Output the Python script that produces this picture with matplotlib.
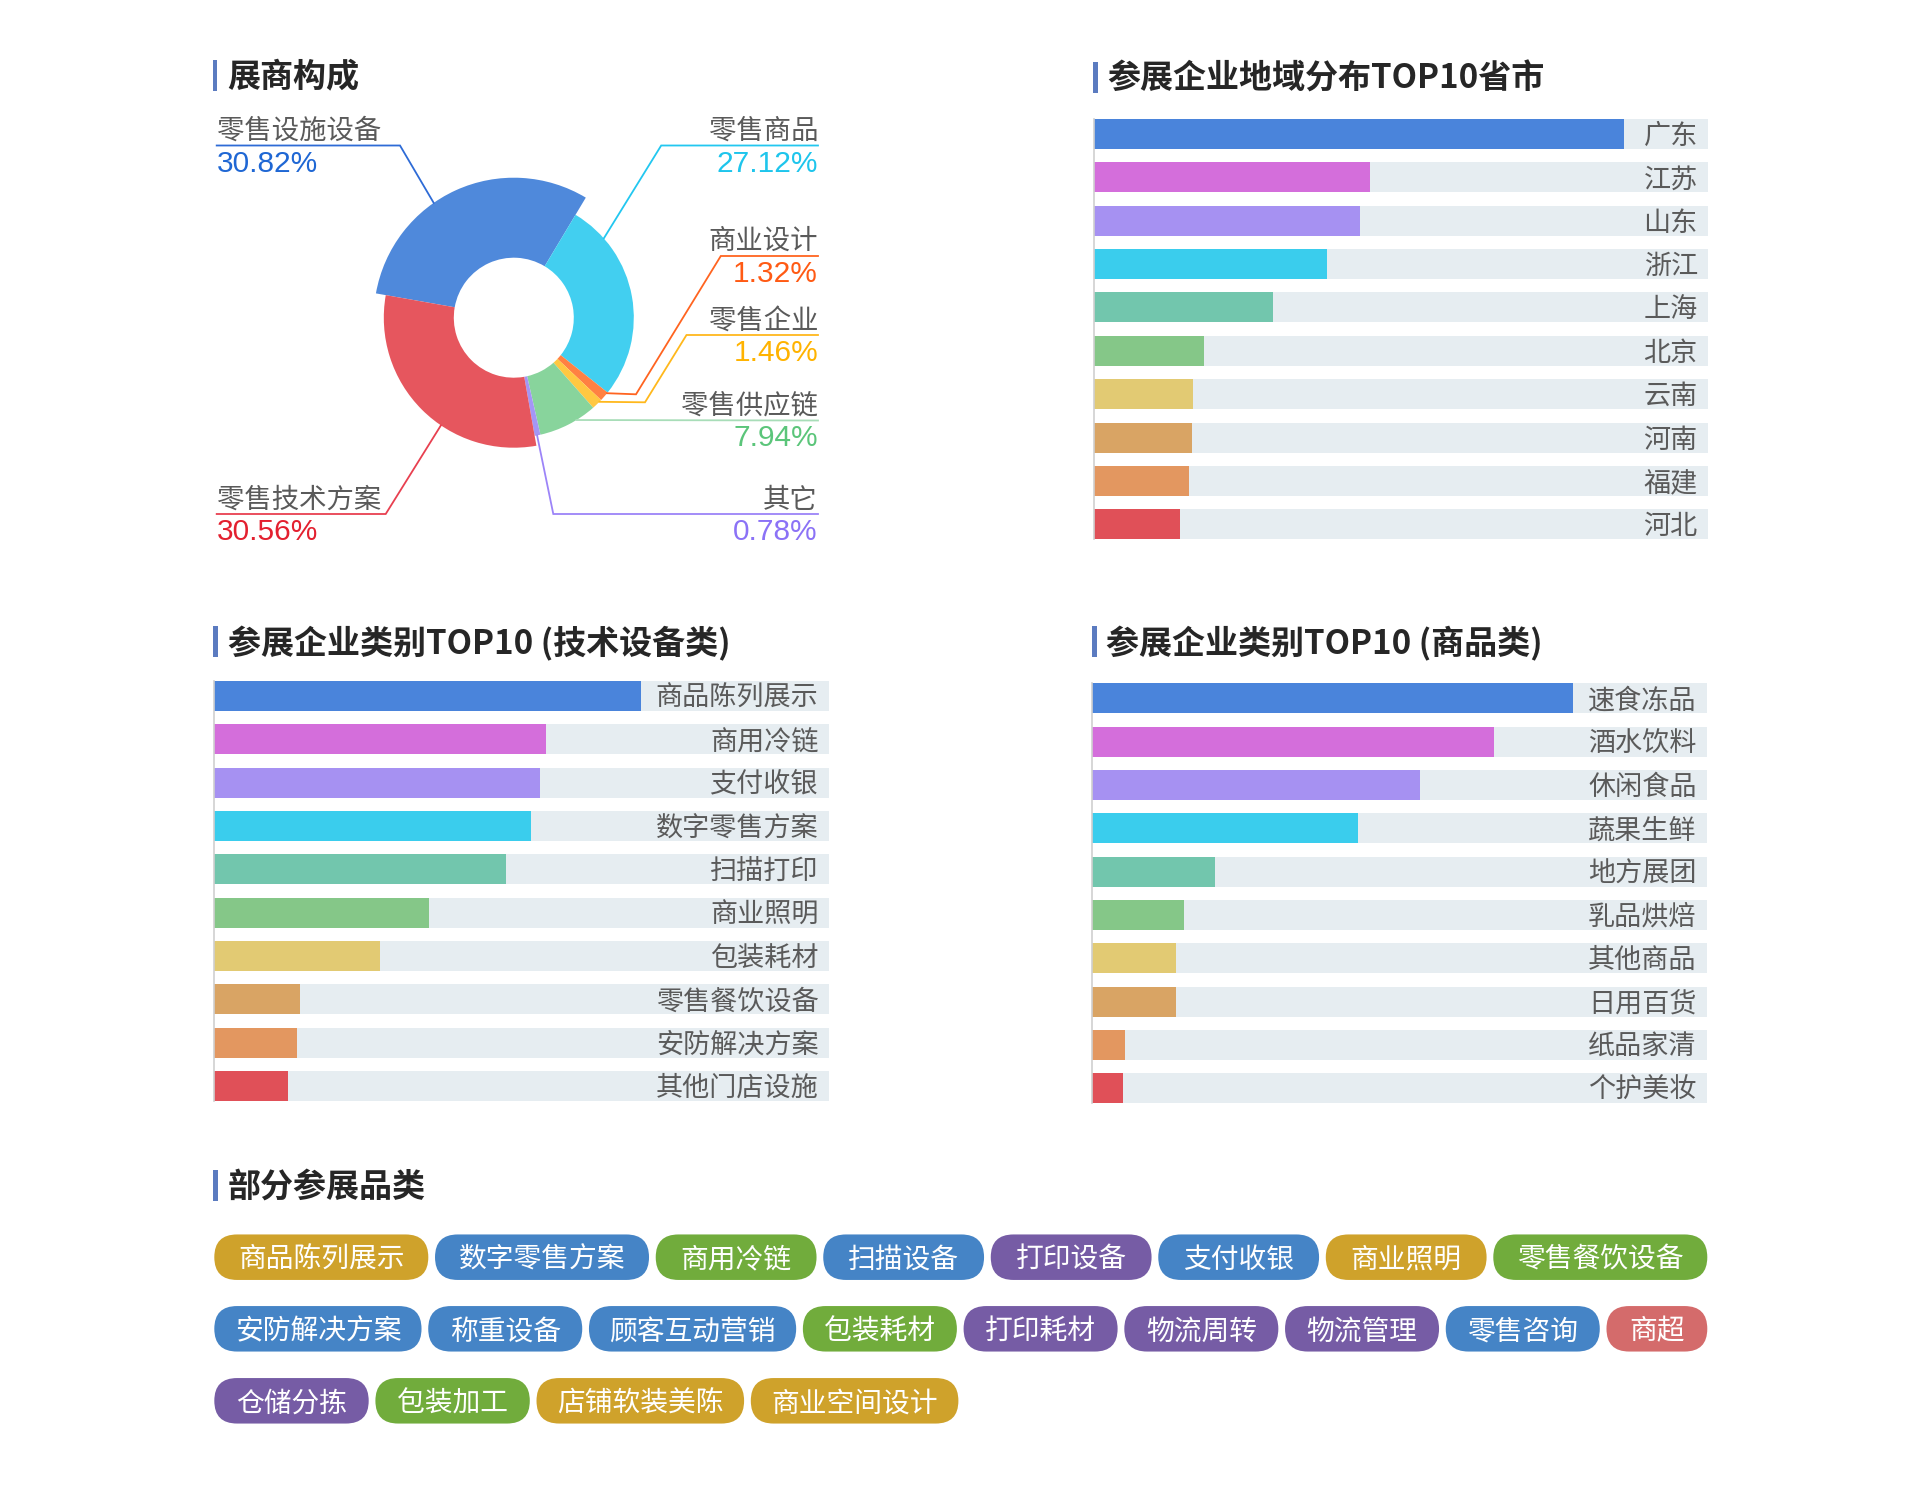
import matplotlib
matplotlib.use('Agg')
import matplotlib.pyplot as plt
from matplotlib.patches import Rectangle, FancyBboxPatch
import numpy as np

plt.rcParams['font.family'] = ['Noto Sans CJK SC', 'DejaVu Sans']

W, H = 1920, 1490
BG = '#e6edf1'
TITLE_BAR = '#5b7bc0'
LABEL_GREY = '#5a5a5a'
DY = 2.5  # CJK glyphs sit a bit high with va='center'

# ---- 展商构成 (玫瑰环形图), 顺时针顺序
pie_names = ['零售设施设备', '零售商品', '商业设计', '零售企业', '零售供应链', '其它', '零售技术方案']
pie_shares = [30.82, 27.12, 1.32, 1.46, 7.94, 0.78, 30.56]
pie_colors = ['#4f89db', '#42cff0', '#ff8142', '#ffc842', '#88d49c', '#a496f5', '#e6565e']
pct_colors = ['#1f67d4', '#1ec5ec', '#ff5a14', '#ffb300', '#5bc57a', '#8b72f6', '#e3202f']
line_colors = ['#2e6bd6', '#22c7f0', '#ff6420', '#ffb81c', '#a8ddb8', '#9c84f8', '#e84050']
pie_radius = [140, 120, 120, 120, 120, 120, 130]

# ---- 参展企业地域分布TOP10省市
prov_names = ['广东', '江苏', '山东', '浙江', '上海', '北京', '云南', '河南', '福建', '河北']
prov_values = [432, 225, 217, 190, 146, 90, 81, 80, 78, 70]

# ---- 参展企业类别TOP10 (技术设备类)
tech_names = ['商品陈列展示', '商用冷链', '支付收银', '数字零售方案', '扫描打印',
              '商业照明', '包装耗材', '零售餐饮设备', '安防解决方案', '其他门店设施']
tech_values = [139, 108, 106, 103, 95, 70, 54, 28, 27, 24]

# ---- 参展企业类别TOP10 (商品类)
goods_names = ['速食冻品', '酒水饮料', '休闲食品', '蔬果生鲜', '地方展团',
               '乳品烘焙', '其他商品', '日用百货', '纸品家清', '个护美妆']
goods_values = [235, 196, 160, 130, 60, 45, 41, 41, 16, 15]

bar_colors = ['#4a84db', '#d46edb', '#a691f2', '#3acded', '#72c6ad',
              '#85c788', '#e2ca73', '#d9a464', '#e39760', '#e05058']

# ---- 部分参展品类
tag_rows = [
    [('商品陈列展示', 'gold'), ('数字零售方案', 'blue'), ('商用冷链', 'green'), ('扫描设备', 'blue'),
     ('打印设备', 'purple'), ('支付收银', 'blue'), ('商业照明', 'gold'), ('零售餐饮设备', 'green')],
    [('安防解决方案', 'blue'), ('称重设备', 'blue'), ('顾客互动营销', 'blue'), ('包装耗材', 'green'),
     ('打印耗材', 'purple'), ('物流周转', 'purple'), ('物流管理', 'purple'), ('零售咨询', 'blue'),
     ('商超', 'red')],
    [('仓储分拣', 'purple'), ('包装加工', 'green'), ('店铺软装美陈', 'gold'), ('商业空间设计', 'gold')],
]
tag_palette = {'gold': '#cfa22b', 'blue': '#4584c6', 'green': '#71ac3c',
               'purple': '#765ca5', 'red': '#d46b6b'}

fig = plt.figure(figsize=(W / 100, H / 100), dpi=100)
fig.patch.set_facecolor('white')

# overlay axes in pixel coordinates for titles and tags
ov = fig.add_axes([0, 0, 1, 1])
ov.set_xlim(0, W)
ov.set_ylim(H, 0)
ov.axis('off')


def section_title(x, y, text):
    ov.add_patch(Rectangle((x, y - 15.5), 4.5, 31, color=TITLE_BAR, lw=0))
    ov.text(x + 14.5, y + DY, text, fontsize=23.8, fontweight='bold', color='#262626',
            va='center', ha='left')


section_title(212.5, 75.5, '展商构成')
section_title(1093, 77, '参展企业地域分布TOP10省市')
section_title(213, 641, '参展企业类别TOP10 (技术设备类)')
section_title(1092, 641, '参展企业类别TOP10 (商品类)')
section_title(213, 1185, '部分参展品类')

# ---- donut
cx, cy = 513.8, 317.7
pl, pr, pt, pb = 200, 840, 90, 570
pax = fig.add_axes([pl / W, 1 - pb / H, (pr - pl) / W, (pb - pt) / H])
wedges, _ = pax.pie(pie_shares, colors=pie_colors, startangle=170, counterclock=False,
                    radius=120, wedgeprops=dict(width=60, linewidth=0))
for w, r in zip(wedges, pie_radius):
    w.set_radius(r)
    w.set_width(r - 60)
pax.set_xlim(pl - cx, pr - cx)
pax.set_ylim(cy - pb, cy - pt)
pax.set_aspect('auto')
pax.axis('off')


def P(x, y):
    return x - cx, cy - y


# label layout: anchor angle on the slice, then leader path in px, side, text rows
label_layout = [
    dict(ang=124.9, path=[(400, 145.5), (216.7, 145.5)], side='left', ny=128.5, py=163),
    dict(ang=41.4, path=[(661.2, 145.5), (818, 145.5)], side='right', ny=128.5, py=163),
    dict(ang=-39.0, path=[(636, 394.3), (720.8, 256), (818, 256)], side='right', ny=239, py=272.7),
    dict(ang=-44.5, path=[(645, 402.3), (686.5, 335), (818, 335)], side='right', ny=318.3, py=351.7),
    dict(ang=-58.5, path=[(818, 420.5)], side='right', ny=404, py=436.7),
    dict(ang=-78.8, path=[(553.3, 514), (818, 514)], side='right', ny=497.5, py=531),
    dict(ang=-124.1, path=[(385.7, 514), (216.7, 514)], side='left', ny=497.5, py=531),
]

for name, share, r, lc, pc, lay in zip(pie_names, pie_shares, pie_radius,
                                      line_colors, pct_colors, label_layout):
    a = np.deg2rad(lay['ang'])
    xs = [r * np.cos(a)]
    ys = [r * np.sin(a)]
    for (x, y) in lay['path']:
        px, py = P(x, y)
        xs.append(px)
        ys.append(py)
    pax.plot(xs, ys, color=lc, lw=1.3, solid_joinstyle='miter')
    if lay['side'] == 'left':
        tx, ha = P(216.7, 0)[0], 'left'
    else:
        tx, ha = P(818, 0)[0], 'right'
    pax.text(tx, P(0, lay['ny'] + DY)[1], name, fontsize=19.7, color=LABEL_GREY, ha=ha, va='center')
    pax.text(tx, P(0, lay['py'] + 1)[1], f'{share:.2f}%', fontsize=21.5, color=pc, ha=ha,
             va='center', family=['Liberation Sans', 'DejaVu Sans'])


# ---- bar panels
def bar_panel(left, right, first_c, last_c, names, values, vmax):
    n = len(names)
    pitch = (last_c - first_c) / (n - 1)
    top = first_c - pitch / 2
    bottom = last_c + pitch / 2
    ax = fig.add_axes([left / W, 1 - bottom / H, (right - left) / W, (bottom - top) / H])
    y = np.arange(n)
    hgt = 30 / pitch
    ax.barh(y, [vmax] * n, height=hgt, color=BG, lw=0, zorder=1)
    ax.barh(y, values, height=hgt, color=bar_colors[:n], lw=0, zorder=2)
    ax.set_xlim(0, vmax)
    ax.set_ylim(n - 0.5, -0.5)
    for i, nm in enumerate(names):
        ax.annotate(nm, (vmax, i), xytext=(-10, -DY), textcoords='offset pixels',
                    ha='right', va='center', fontsize=19.5, color=LABEL_GREY, zorder=3)
    for s in ['top', 'right', 'bottom']:
        ax.spines[s].set_visible(False)
    ax.spines['left'].set_color('#cfcfcf')
    ax.spines['left'].set_linewidth(1.2)
    ax.spines['left'].set_bounds(-hgt / 2, n - 1 + hgt / 2)
    ax.set_xticks([])
    ax.set_yticks([])
    ax.patch.set_alpha(0)
    return ax


bar_panel(1093.5, 1707.8, 134, 524.3, prov_names, prov_values, 500)
bar_panel(214.3, 828.6, 696, 1086, tech_names, tech_values, 200)
bar_panel(1092.2, 1706.5, 698.3, 1088.3, goods_names, goods_values, 300)

# ---- tags
row_left, row_right = 214.3, 1707.3
gap = 6.7
tag_h = 45.5
row_centers = [1257.2, 1328.8, 1400.8]
for ri, row in enumerate(tag_rows):
    widths = [48 + 26.6 * len(t) for t, _ in row]
    if ri < len(tag_rows) - 1:
        extra = (row_right - row_left - sum(widths) - gap * (len(row) - 1)) / len(row)
        widths = [w + extra for w in widths]
    x = row_left
    yc = row_centers[ri]
    for (txt, cname), w in zip(row, widths):
        ov.add_patch(FancyBboxPatch((x, yc - tag_h / 2), w, tag_h,
                                    boxstyle=f'round,pad=0,rounding_size={tag_h / 2}',
                                    fc=tag_palette[cname], ec='none'))
        ov.text(x + w / 2, yc + DY, txt, ha='center', va='center', fontsize=20, color='white')
        x += w + gap

fig.savefig('out.png', dpi=100, facecolor='white')
